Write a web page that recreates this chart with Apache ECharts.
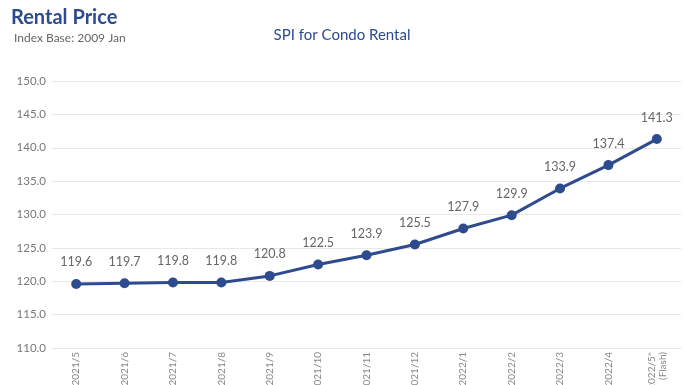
<!DOCTYPE html>
<html><head><meta charset="utf-8">
<script src="https://cdn.jsdelivr.net/npm/echarts@6/dist/echarts.min.js"></script>
<style>html,body{margin:0;padding:0;background:#fff}#c{width:684px;height:385px}</style>
</head><body><div id="c"></div>
<script>
const categories = ['2021/5','2021/6','2021/7','2021/8','2021/9','2021/10','2021/11','2021/12','2022/1','2022/2','2022/3','2022/4','2022/5*\n(Flash)'];
const values = [119.6,119.7,119.8,119.8,120.8,122.5,123.9,125.5,127.9,129.9,133.9,137.4,141.3];
const chart = echarts.init(document.getElementById('c'));
const font = 'Lato, "Noto Sans", sans-serif';
chart.setOption({
  animation:false,
  textStyle:{fontFamily:font},
  title:[
    {text:'Rental Price',left:6,top:3,textStyle:{fontFamily:font,fontSize:20,fontWeight:'bold',color:'#2d4b8e'}},
    {text:'Index Base: 2009 Jan',left:9,top:27,textStyle:{fontFamily:font,fontSize:12,fontWeight:'normal',color:'#666'}},
    {text:'SPI for Condo Rental',left:'center',top:23,textStyle:{fontFamily:font,fontSize:15,fontWeight:'normal',color:'#2d4b8e'}}
  ],
  grid:{left:52,right:3,top:81,bottom:37,containLabel:false,outerBoundsMode:'none'},
  xAxis:{type:'category',data:categories,boundaryGap:true,
    axisLine:{show:true,lineStyle:{color:'#e6e6e6'}},axisTick:{show:false},
    axisLabel:{rotate:90,color:'#888',fontSize:10,fontFamily:font,interval:0,margin:4,lineHeight:11}},
  yAxis:{type:'value',min:110,max:150,interval:5,
    axisLabel:{formatter:v=>v.toFixed(1),color:'#777',fontSize:11.5,fontFamily:font,margin:6},
    splitLine:{lineStyle:{color:'#e8e8e8'}},axisLine:{show:false},axisTick:{show:false}},
  series:[{type:'line',data:values,symbol:'circle',symbolSize:10,
    lineStyle:{color:'#2d4b8e',width:3},itemStyle:{color:'#2d4b8e'},
    label:{show:true,position:'top',distance:10,color:'#666',fontSize:12.5,fontFamily:font,formatter:p=>p.value.toFixed(1)}}]
});
</script></body></html>
